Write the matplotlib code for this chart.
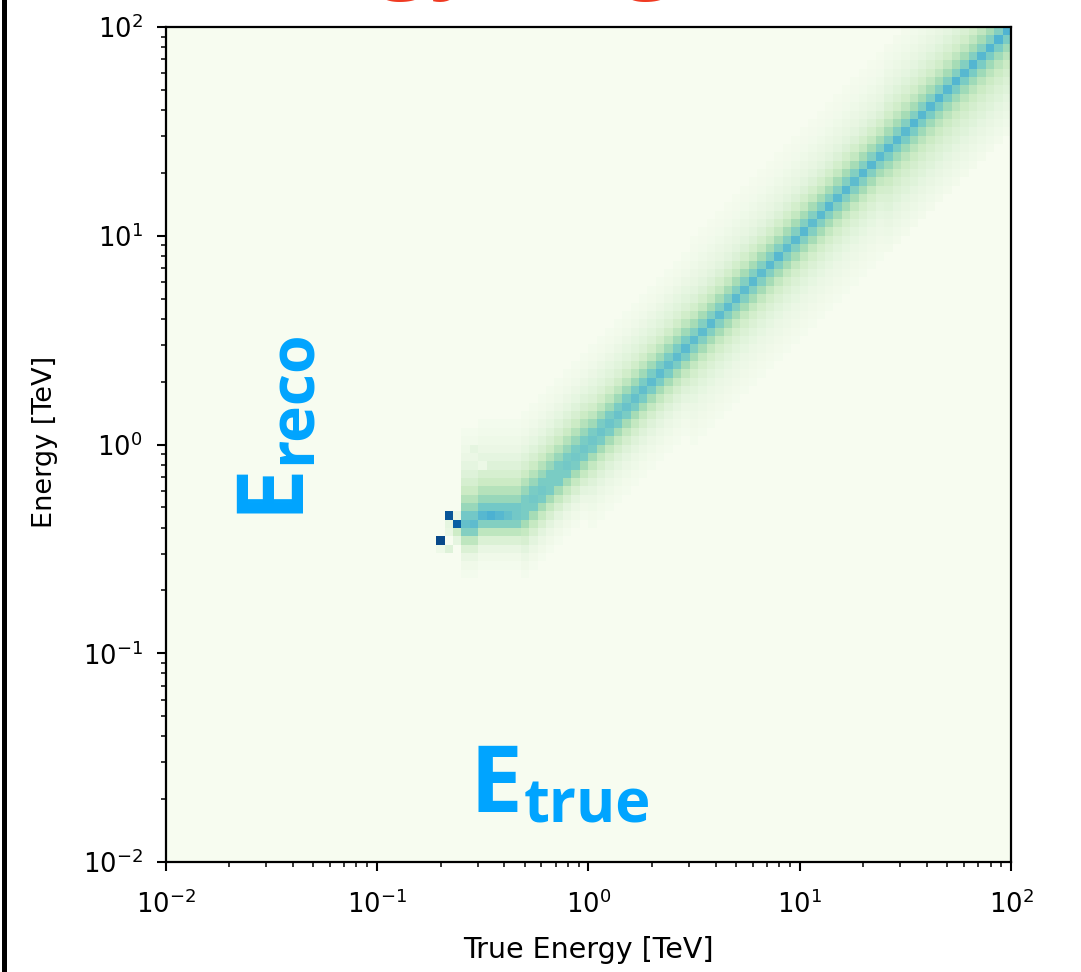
import numpy as np
import matplotlib
matplotlib.use("Agg")
import matplotlib.pyplot as plt
from matplotlib.patches import Rectangle

# ---------------- data ----------------
n_bins = 100                      # 25 bins per decade, 1e-2 .. 1e2 TeV on both axes
log_range = (-2, 2)

# strongest cell of each true-energy column (column index 35 .. 99)
first_col = 35
peak_rows = [40, 40, 41, 41, 41, 41, 41,
             42, 43, 44, 45, 46, 47, 48, 49, 50, 51, 52, 53, 54, 55,
             56, 57, 58, 59, 60, 61, 62, 63, 64, 65, 66, 67, 68, 69, 70,
             71, 72, 73, 74, 75, 76, 77, 78, 79, 80, 81, 82, 83, 84, 85,
             86, 87, 88, 89, 90, 91, 92, 93, 94, 95, 96, 97, 98, 99]
peak_vals = [0.56, 0.58, 0.60, 0.63, 0.60, 0.56, 0.52,
             0.50, 0.52, 0.52, 0.50, 0.50, 0.52, 0.52, 0.53, 0.53, 0.54, 0.54, 0.55, 0.55, 0.56,
             0.57, 0.58, 0.58, 0.57, 0.58, 0.59, 0.58, 0.58, 0.59, 0.58, 0.58, 0.59, 0.58, 0.59, 0.58,
             0.59, 0.60, 0.58, 0.59, 0.60, 0.58, 0.59, 0.60, 0.59, 0.60, 0.58, 0.60, 0.60, 0.59, 0.60,
             0.60, 0.59, 0.61, 0.60, 0.60, 0.61, 0.60, 0.61, 0.60, 0.61, 0.60, 0.61, 0.62, 0.62]

# fall-off of the cells above / below the peak, per energy region (first column of region)
region_start = [35, 42, 50, 62, 85]
profile_above = [
    [0.52, 0.42, 0.33, 0.25, 0.19, 0.14, 0.10, 0.07, 0.05, 0.035, 0.02],
    [0.50, 0.42, 0.33, 0.25, 0.18, 0.13, 0.09, 0.065, 0.045, 0.03, 0.02],
    [0.50, 0.40, 0.30, 0.22, 0.16, 0.12, 0.09, 0.065, 0.045, 0.03, 0.02],
    [0.48, 0.38, 0.28, 0.21, 0.15, 0.11, 0.085, 0.065, 0.05, 0.035, 0.025, 0.018],
    [0.48, 0.38, 0.29, 0.22, 0.17, 0.13, 0.10, 0.08, 0.06, 0.045, 0.035, 0.025],
]
profile_below = [
    [0.48, 0.30, 0.16, 0.08, 0.04, 0.02],
    [0.50, 0.38, 0.27, 0.18, 0.11, 0.07, 0.04, 0.02],
    [0.50, 0.38, 0.28, 0.20, 0.14, 0.10, 0.07, 0.05, 0.03, 0.02],
    [0.48, 0.38, 0.28, 0.21, 0.16, 0.12, 0.09, 0.07, 0.055, 0.04, 0.03, 0.02],
    [0.50, 0.40, 0.31, 0.25, 0.20, 0.16, 0.13, 0.10, 0.08, 0.06, 0.045, 0.03],
]

# sparse low-statistics cells near threshold: (true bin, reco bin, value)
extra_cells = [(32, 38, 0.97), (33, 41, 0.93), (34, 40, 0.90),
               (33, 40, 0.10), (33, 39, 0.08), (33, 37, 0.14),
               (34, 39, 0.24), (34, 38, 0.10), (34, 41, 0.08), (32, 37, 0.05),
               (36, 49, 0.10), (37, 47, 0.06)]

x_label = "True Energy [TeV]"
y_label = "Energy [TeV]"
title_text = "Energy Migration"

# ---------------- build matrix ----------------
Z = np.zeros((n_bins, n_bins))
for k, (r, v) in enumerate(zip(peak_rows, peak_vals)):
    c = first_col + k
    reg = max(i for i, s in enumerate(region_start) if c >= s)
    Z[r, c] = v
    for d, f in enumerate(profile_above[reg], start=1):
        if r + d < n_bins:
            Z[r + d, c] = f
    for d, f in enumerate(profile_below[reg], start=1):
        if r - d >= 0:
            Z[r - d, c] = f
for c, r, v in extra_cells:
    Z[r, c] = v

edges = np.logspace(log_range[0], log_range[1], n_bins + 1)

# ---------------- figure ----------------
W, H = 1081, 972
fig = plt.figure(figsize=(W / 100, H / 100), dpi=100)
ax = fig.add_axes([165.5 / W, 1 - 862 / H, 845.5 / W, 835 / H])
ax.pcolormesh(edges, edges, Z, cmap="GnBu", vmin=0, vmax=1, shading="flat")
ax.set_xscale("log")
ax.set_yscale("log")
ax.set_xlim(edges[0], edges[-1])
ax.set_ylim(edges[0], edges[-1])

fs = 18.5
ax.tick_params(which="major", length=6.5, width=1.5, labelsize=fs)
ax.tick_params(axis="x", which="major", pad=14)
ax.tick_params(axis="y", which="major", pad=10)
ax.tick_params(which="minor", length=3.7, width=1.1)
for s in ax.spines.values():
    s.set_linewidth(1.6)

ax.set_xlabel(x_label, fontsize=20.5)
ax.set_ylabel(y_label, fontsize=19.5)
ax.xaxis.set_label_coords(0.5, (862 - 950) / 835)
ax.xaxis.label.set_verticalalignment("center")
ax.yaxis.set_label_coords((45 - 165.5) / 845.5, (862 - 442) / 835)
ax.yaxis.label.set_verticalalignment("center")

# left black frame line
fig.add_artist(Rectangle((2 / W, 0), 5 / W, 1, transform=fig.transFigure,
                         color="black", lw=0))

blue = "#00A4FF"
red = "#F03A22"
font = ["Open Sans", "DejaVu Sans"]

# cut-off red title at the top (only descenders visible, as in the source)
fig.text(168 / W, 1 + 20 / H, title_text, color=red, fontsize=67, fontweight="bold",
         family=font, ha="left", va="baseline")

# E_true
fig.text(470 / W, 1 - 812 / H, "E", color=blue, fontsize=68, fontweight="bold",
         family=font, ha="left", va="baseline")
fig.text(524 / W, 1 - 822 / H, "true", color=blue, fontsize=43, fontweight="bold",
         family=font, ha="left", va="baseline")
# E_reco (rotated)
fig.text(296 / W, 1 - 513 / H, "E", color=blue, fontsize=68, fontweight="bold",
         family=font, ha="left", va="baseline", rotation=90, rotation_mode="anchor")
fig.text(311 / W, 1 - 464 / H, "reco", color=blue, fontsize=45, fontweight="bold",
         family=font, ha="left", va="baseline", rotation=90, rotation_mode="anchor")

fig.savefig("out.png", dpi=100)
